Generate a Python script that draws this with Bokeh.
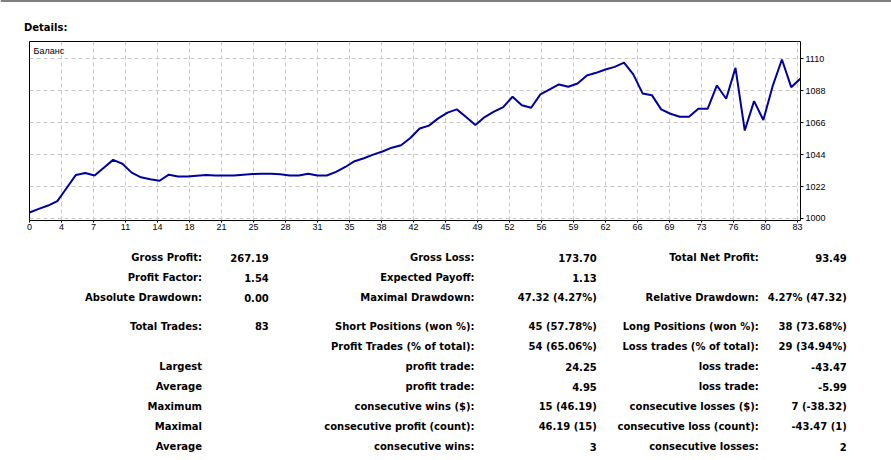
from bokeh.plotting import figure
from bokeh.layouts import column
from bokeh.models import Range1d, FixedTicker, Label, ColumnDataSource
from bokeh.core.properties import value
from bokeh.embed import file_html
from bokeh.resources import INLINE

# ---------------- data ----------------
trade_index = list(range(84))
balance = [
    1004.1, 1006.6, 1008.9, 1012.0, 1021.0, 1030.0, 1031.3, 1029.6, 1035.0, 1040.4,
    1037.7, 1031.6, 1028.4, 1027.1, 1026.0, 1030.2, 1028.9, 1028.9, 1029.5, 1030.0,
    1029.7, 1029.6, 1029.7, 1030.2, 1030.6, 1030.9, 1030.9, 1030.5, 1029.6, 1029.6,
    1030.9, 1029.6, 1029.6, 1032.1, 1035.5, 1039.5, 1041.5, 1044.0, 1046.2, 1048.8,
    1050.5, 1055.5, 1062.0, 1064.0, 1069.0, 1073.0, 1075.2, 1069.9, 1064.4, 1069.9,
    1073.6, 1076.8, 1083.9, 1078.0, 1076.3, 1085.5, 1089.0, 1092.4, 1090.8, 1093.0,
    1098.6, 1100.4, 1102.7, 1104.5, 1107.5, 1099.3, 1086.2, 1085.0, 1075.2, 1072.2,
    1070.1, 1070.1, 1075.6, 1075.6, 1091.7, 1082.5, 1103.8, 1060.6, 1080.9, 1067.9,
    1091.2, 1109.6, 1090.5, 1096.5,
]
x_tick_labels = ["0", "4", "7", "11", "14", "18", "21", "25", "28", "31", "35", "38", "42",
                 "45", "49", "52", "56", "59", "62", "66", "69", "73", "76", "80", "83"]
y_ticks = [1000, 1022, 1044, 1066, 1088, 1110]
series_name = "Баланс"
section_title = "Details:"

col1 = ["Gross Profit:", "Profit Factor:", "Absolute Drawdown:", "Total Trades:", "",
        "Largest", "Average", "Maximum", "Maximal", "Average"]
col2 = ["267.19", "1.54", "0.00", "83", "", "", "", "", "", ""]
col3 = ["Gross Loss:", "Expected Payoff:", "Maximal Drawdown:", "Short Positions (won %):",
        "Profit Trades (% of total):", "profit trade:", "profit trade:",
        "consecutive wins ($):", "consecutive profit (count):", "consecutive wins:"]
col4 = ["173.70", "1.13", "47.32 (4.27%)", "45 (57.78%)", "54 (65.06%)", "24.25", "4.95",
        "15 (46.19)", "46.19 (15)", "3"]
col5 = ["Total Net Profit:", "", "Relative Drawdown:", "Long Positions (won %):",
        "Loss trades (% of total):", "loss trade:", "loss trade:", "consecutive losses ($):",
        "consecutive loss (count):", "consecutive losses:"]
col6 = ["93.49", "", "4.27% (47.32)", "38 (73.68%)", "29 (34.94%)", "-43.47", "-5.99",
        "7 (-38.32)", "-43.47 (1)", "2"]

# ---------------- layout (page pixels) ----------------
W = 891
HEADER_H = 40
CHART_H = 196
TABLE_H = 460 - HEADER_H - CHART_H
col_right_edges = [201.5, 268.3, 474.0, 596.3, 758.3, 846.3]
row_baselines = [257.3, 277.3, 297.3, 325.7, 345.7, 366.3, 386.3, 406.3, 426.3, 446.3]

BOLD_FONT = value("DejaVu Sans")
AXIS_FONT = "Liberation Sans"

# ---------------- header ----------------
header = figure(width=W, height=HEADER_H, x_range=Range1d(0, W), y_range=Range1d(HEADER_H, 0),
                toolbar_location=None, output_backend="svg", frame_align=False,
                x_axis_location=None, y_axis_location=None,
                min_border_left=0, min_border_right=0, min_border_top=0, min_border_bottom=0)
header.grid.visible = False
header.outline_line_color = None
header.segment(x0=[0], y0=[0], x1=[W], y1=[0], line_color="black", line_width=2)
header.text(x=[23.5], y=[27.3], text=[section_title], text_font=BOLD_FONT,
            text_font_style="bold", text_font_size="10px", text_color="black",
            text_align="left", text_baseline="alphabetic")

# ---------------- chart ----------------
x_min, x_max = 0, 83
y_min, y_max = 998.6, 1122.0
chart = figure(width=W, height=CHART_H, x_range=Range1d(x_min, x_max),
               y_range=Range1d(y_min, y_max), y_axis_location="right",
               toolbar_location=None, output_backend="svg", frame_align=False,
               min_border_left=29, min_border_right=91, min_border_top=1, min_border_bottom=16)
frame_w = W - 29 - 91
grid_step = (x_max - x_min) * 32.0 / frame_w
x_ticks = [round(k * grid_step, 6) for k in range(len(x_tick_labels))]

chart.xaxis.ticker = FixedTicker(ticks=x_ticks)
chart.xaxis.major_label_overrides = {t: lab for t, lab in zip(x_ticks, x_tick_labels)}
chart.yaxis.ticker = FixedTicker(ticks=y_ticks)
for ax in (chart.xaxis[0], chart.yaxis[0]):
    ax.axis_line_color = None
    ax.major_tick_in = 0
    ax.minor_tick_line_color = None
    ax.major_tick_line_color = "black"
    ax.major_label_text_font = AXIS_FONT
    ax.major_label_text_font_size = "9px"
    ax.major_label_text_color = "black"
chart.xaxis.major_tick_out = 2
chart.xaxis.major_label_standoff = 1
chart.yaxis.major_tick_out = 3
chart.yaxis.major_label_standoff = 2

chart.xgrid.grid_line_color = "#c8c8c8"
chart.ygrid.grid_line_color = "#c8c8c8"
chart.xgrid.grid_line_dash = "4 3"
chart.ygrid.grid_line_dash = "4 3"
chart.outline_line_color = "black"
chart.outline_line_alpha = 1.0
chart.outline_line_width = 1
chart.background_fill_color = "white"
chart.border_fill_color = "white"

chart.line(trade_index, balance, line_color="#0000a0", line_width=2)

frame_h = CHART_H - 1 - 16
chart.add_layout(Label(x=x_min + 4 * (x_max - x_min) / frame_w,
                       y=y_max - 4 * (y_max - y_min) / frame_h,
                       text=series_name, text_font=AXIS_FONT, text_font_size="9px",
                       text_color="black", text_baseline="top", text_align="left"))

# ---------------- table ----------------
top = HEADER_H + CHART_H
table = figure(width=W, height=TABLE_H, x_range=Range1d(0, W), y_range=Range1d(460, top),
               toolbar_location=None, output_backend="svg", frame_align=False,
               x_axis_location=None, y_axis_location=None,
               min_border_left=0, min_border_right=0, min_border_top=0, min_border_bottom=0)
table.grid.visible = False
table.outline_line_color = None

xs, ys, txt = [], [], []
for ci, col in enumerate([col1, col2, col3, col4, col5, col6]):
    for ri, s in enumerate(col):
        if s:
            xs.append(col_right_edges[ci])
            ys.append(row_baselines[ri])
            txt.append(s)
src = ColumnDataSource(dict(x=xs, y=ys, text=txt))
table.text(x="x", y="y", text="text", source=src, text_font=BOLD_FONT,
           text_font_style="bold", text_font_size="10px", text_color="black",
           text_align="right", text_baseline="alphabetic")

layout = column(header, chart, table, spacing=0)
open("out.html", "w").write(file_html(layout, INLINE))
